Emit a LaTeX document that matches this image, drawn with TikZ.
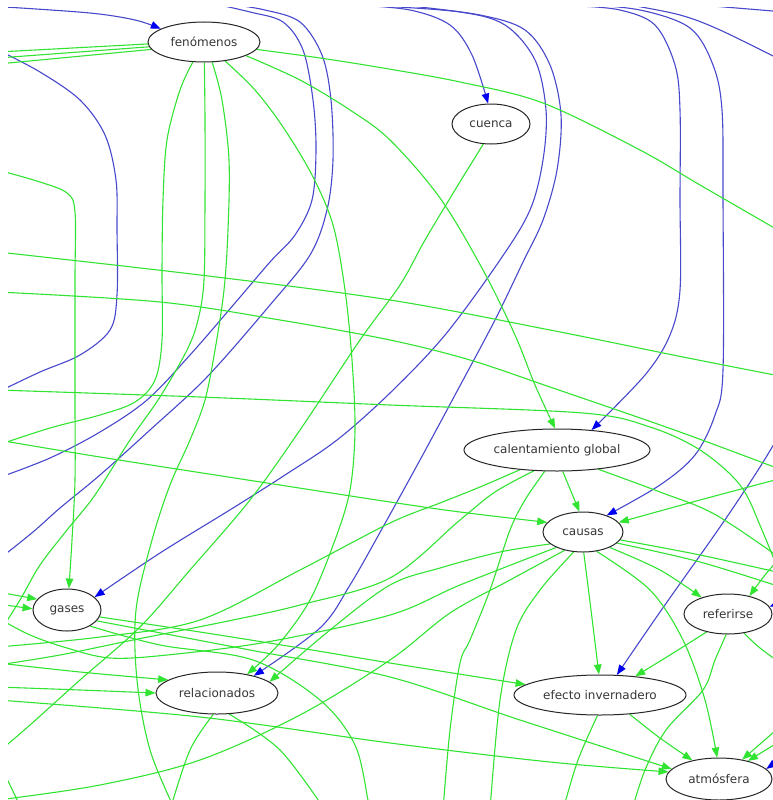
\documentclass[tikz,border=0pt]{standalone}
\usepackage{fontspec}
\setmainfont{DejaVu Sans}
\usetikzlibrary{shapes.geometric,arrows.meta}
\definecolor{edgegreen}{RGB}{50,228,50}
\definecolor{edgeblue}{RGB}{72,72,205}
\definecolor{tipblue}{RGB}{0,0,240}
\definecolor{nodetext}{RGB}{55,55,55}
\pgfdeclarelayer{paper}
\pgfdeclarelayer{edges}
\pgfsetlayers{paper,edges,main}
\begin{document}
\begin{tikzpicture}[x=1pt,y=-1pt,
  concept/.style={ellipse, draw=black!85, line width=1pt, fill=white, inner sep=0pt,
    text=nodetext, font=\fontsize{12}{14}\selectfont},
  gline/.style={draw=edgegreen, line width=1.1pt},
  bline/.style={draw=edgeblue, line width=1.1pt},
  gtip/.style={gline, -{Triangle[length=10pt,width=7.5pt,color=edgegreen]}},
  btip/.style={bline, -{Triangle[length=10pt,width=7.5pt,color=tipblue]}},
  sm/.style={smooth, tension=0.55}
]
\begin{pgfonlayer}{paper}
\fill[white] (0,0) rectangle (773,800);
\end{pgfonlayer}
\useasboundingbox (0,0) rectangle (773,800);

% concepts
\node[concept, minimum width=112pt, minimum height=40pt] (fen) at (204,42) {fenómenos};
\node[concept, minimum width=78pt,  minimum height=40pt] (cue) at (491,124) {cuenca};
\node[concept, minimum width=186pt, minimum height=42pt] (cal) at (557,450) {calentamiento global};
\node[concept, minimum width=80pt,  minimum height=40pt] (cau) at (583,532) {causas};
\node[concept, minimum width=68pt,  minimum height=42pt] (gas) at (67,610) {gases};
\node[concept, minimum width=122pt, minimum height=42pt] (rel) at (217,693) {relacionados};
\node[concept, minimum width=88pt,  minimum height=40pt] (ref) at (728,614) {referirse};
\node[concept, minimum width=172pt, minimum height=40pt] (efe) at (600,695) {efecto invernadero};
\node[concept, minimum width=106pt, minimum height=42pt] (atm) at (719,779) {atmósfera};

% free ends of connectors leaving the frame
\coordinate (t1) at (5,7);     \coordinate (t3) at (215,4);   \coordinate (t4) at (228,4);
\coordinate (t5) at (355,5);   \coordinate (t6) at (380,6);   \coordinate (t7) at (410,6);
\coordinate (t8) at (578,6);   \coordinate (t9) at (578,4);   \coordinate (t10) at (630,5);
\coordinate (t11) at (700,5);
\coordinate (l2) at (-2,50);   \coordinate (l3) at (-2,392);  \coordinate (l4) at (-2,478);
\coordinate (l5) at (-2,560);  \coordinate (l6) at (-2,52);   \coordinate (l7) at (-2,58);
\coordinate (l8) at (-2,64);   \coordinate (l9) at (-2,445);  \coordinate (l10) at (-2,635);
\coordinate (l11) at (-5,755); \coordinate (l12) at (-2,170); \coordinate (l13) at (-2,252);
\coordinate (l14) at (-2,292); \coordinate (l15) at (-2,390); \coordinate (l16) at (-2,440);
\coordinate (l17) at (-2,647); \coordinate (l18) at (-2,665); \coordinate (l19) at (-2,800);
\coordinate (l20) at (-2,700); \coordinate (l21) at (-2,663); \coordinate (l22) at (-2,687);
\coordinate (l23) at (-2,592); \coordinate (l24) at (-2,604); \coordinate (l25) at (-2,618);
\coordinate (l26) at (-2,760);
\coordinate (r1) at (785,62);  \coordinate (r2) at (785,12);  \coordinate (r3) at (788,420);
\coordinate (r4) at (790,752); \coordinate (r5) at (790,598); \coordinate (r6) at (790,237);
\coordinate (r7) at (790,378); \coordinate (r8) at (790,473); \coordinate (r9) at (790,600);
\coordinate (r10) at (790,476);\coordinate (r11) at (790,565);\coordinate (r12) at (790,575);
\coordinate (r13) at (790,590);\coordinate (r14) at (785,552);\coordinate (r15) at (790,670);
\coordinate (r16) at (790,718);\coordinate (r17) at (790,735);
\coordinate (b1) at (175,810); \coordinate (b2) at (443,810); \coordinate (b3) at (490,810);
\coordinate (b4) at (632,810); \coordinate (b5) at (563,810); \coordinate (b6) at (170,810);
\coordinate (b7) at (325,810); \coordinate (b8) at (370,810); \coordinate (b9) at (22,810);

\begin{pgfonlayer}{edges}
\begin{scope}
\clip (8,8) rectangle (773,800);

% blue connectors
\draw[btip] plot[sm] coordinates {(t1) (90,13) (135,20) (fen.163)};
\draw[bline] plot[sm] coordinates {(l2) (40,72) (80,100) (105,135) (116,180) (117,230) (117,295) (110,330) (80,355) (40,372) (l3)};
\draw[bline] plot[sm] coordinates {(t3) (250,12) (283,22) (303,50) (313,100) (316,150) (312,200) (295,235) (270,262) (235,303) (190,355) (147,400) (100,432) (50,458) (l4)};
\draw[bline] plot[sm] coordinates {(t4) (265,10) (300,22) (322,55) (331,100) (333,160) (327,210) (310,255) (270,305) (207,377) (150,430) (100,475) (60,508) (33,532) (l5)};
\draw[btip] plot[sm] coordinates {(t5) (410,10) (450,25) (472,55) (cue.98)};
\draw[btip] plot[sm] coordinates {(t6) (460,12) (505,25) (535,60) (546,110) (543,160) (530,210) (500,260) (445,335) (390,393) (337,440) (285,475) (233,508) (160,553) (gas.25)};
\draw[btip] plot[sm] coordinates {(t7) (480,15) (525,30) (550,65) (561,115) (557,170) (543,220) (523,262) (495,320) (455,395) (420,460) (383,527) (350,585) (320,628) (rel.25)};
\draw[btip] plot[sm] coordinates {(t8) (620,10) (655,25) (675,65) (680,110) (680,200) (680,290) (670,335) (645,375) (cal.30)};
\draw[btip] plot[sm] coordinates {(t9) (640,10) (690,28) (713,65) (722,110) (723,200) (723,370) (715,415) (695,455) (660,485) (cau.35)};
\draw[bline] plot[sm] coordinates {(t10) (680,15) (720,30) (r1)};
\draw[bline] (t11) -- (r2);
\draw[btip] plot[sm] coordinates {(r3) (760,467) (720,527) (660,612) (efe.50)};
\draw[btip] (r4) -- (atm.12);
\draw[btip] (r5) -- (ref.10);

% green connectors from fenómenos
\draw[gline] (fen.182) -- (l6);
\draw[gline] (fen.185) -- (l7);
\draw[gline] (fen.188) -- (l8);
\draw[gline] plot[sm] coordinates {(fen.-8) (320,58) (383,68) (460,82) (543,103) (640,150) (700,185) (r6)};
\draw[gtip] plot[sm] coordinates {(fen.-18) (300,80) (350,110) (390,140) (440,198) (483,270) (515,335) (535,385) (cal.95)};
\draw[gline] plot[sm] coordinates {(fen.-119) (180,90) (167,140) (163,200) (162,270) (162,340) (155,380) (135,402) (100,415) (50,428) (l9)};
\draw[gline] plot[sm] coordinates {(fen.-89) (205,120) (205,200) (204,280) (198,320) (187,350) (160,397) (130,440) (95,495) (67,530) (40,565) (20,600) (l10)};
\draw[gline] plot[sm] coordinates {(fen.-68) (222,100) (229,160) (228,230) (224,290) (215,350) (205,400) (190,440) (170,485) (152,540) (136,610) (137,680) (150,750) (b1)};
\draw[gtip] plot[sm] coordinates {(fen.-42) (255,90) (283,127) (312,175) (333,225) (345,290) (352,360) (355,430) (350,490) (335,540) (310,600) (278,645) (rel.32)};

% from cuenca
\draw[gline] plot[sm] coordinates {(cue.-111) (455,190) (425,240) (400,285) (360,340) (300,430) (250,500) (190,570) (140,627) (80,680) (30,725) (l11)};

% long connectors across the left side
\draw[gtip] plot[sm] coordinates {(l12) (40,182) (67,193) (75,212) (75,280) (75,400) (75,480) (72,540) (gas.85)};
\draw[gline] plot[sm] coordinates {(l13) (200,275) (390,300) (550,330) (683,357) (r7)};
\draw[gline] plot[sm] coordinates {(l14) (160,302) (280,320) (390,340) (470,360) (550,387) (680,432) (r8)};
\draw[gline] plot[sm] coordinates {(l15) (200,397) (390,405) (583,413) (650,427) (700,450) (740,485) (762,530) (r9)};
\draw[gtip] plot[sm] coordinates {(l16) (100,457) (267,483) (390,502) (460,512) (cau.165)};
\draw[gtip] plot[sm] coordinates {(r10) (700,500) (cau.15)};

% from calentamiento global
\draw[gline] plot[sm] coordinates {(cal.-152) (480,487) (440,503) (390,523) (300,570) (200,620) (100,637) (l17)};
\draw[gline] plot[sm] coordinates {(cal.-138) (495,492) (460,520) (390,578) (300,605) (233,620) (133,640) (60,655) (l18)};
\draw[gline] plot[sm] coordinates {(cal.-120) (525,500) (510,530) (490,590) (470,640) (460,663) (450,730) (b2)};
\draw[gtip] (cal.-75) -- (cau.100);
\draw[gline] plot[sm] coordinates {(cal.-25) (660,492) (716,515) (r11)};

% from causas
\draw[gtip] plot[sm] coordinates {(cau.-160) (500,552) (440,568) (390,585) (330,630) (rel.12)};
\draw[gline] plot[sm] coordinates {(cau.-135) (510,580) (450,613) (390,660) (300,715) (200,760) (100,785) (l19)};
\draw[gline] plot[sm] coordinates {(cau.-115) (540,590) (516,630) (500,700) (b3)};
\draw[gtip] plot[sm] coordinates {(cau.-88) (591,610) (efe.93)};
\draw[gtip] plot[sm] coordinates {(cau.-55) (650,590) (683,640) (705,700) (atm.95)};
\draw[gtip] plot[sm] coordinates {(cau.-30) (660,570) (ref.148)};
\draw[gline] plot[sm] coordinates {(cau.-12) (700,555) (r12)};
\draw[gline] plot[sm] coordinates {(cau.-18) (700,562) (r13)};
\draw[gline] plot[sm] coordinates {(cau.-150) (460,585) (390,615) (267,642) (167,655) (110,658) (67,648) (30,635) (l25)};

% around referirse
\draw[gtip] plot[sm] coordinates {(r14) (765,575) (ref.40)};
\draw[gtip] plot[sm] coordinates {(ref.-140) (670,655) (efe.28)};
\draw[gline] plot[sm] coordinates {(ref.-95) (715,660) (703,690) (666,730) (645,770) (b4)};
\draw[gline] plot[sm] coordinates {(ref.-50) (760,648) (r15)};
\draw[gtip] (r16) -- (atm.40);
\draw[gtip] (r17) -- (atm.32);

% from efecto invernadero
\draw[gtip] plot[sm] coordinates {(efe.-33) (660,738) (atm.145)};
\draw[gline] plot[sm] coordinates {(efe.-97) (578,760) (b5)};

% from gases
\draw[gtip] plot[sm] coordinates {(gas.-12) (200,632) (300,648) (390,663) (efe.172)};
\draw[gtip] plot[sm] coordinates {(gas.-20) (250,650) (390,677) (520,720) (atm.168)};
\draw[gline] plot[sm] coordinates {(gas.-35) (160,645) (253,660) (320,700) (355,745) (368,800) (b8)};

% into relacionados, gases and atmósfera from the left
\draw[gtip] plot[sm] coordinates {(l20) (200,717) (390,743) (550,762) (atm.172)};
\draw[gtip] plot[sm] coordinates {(l21) (80,672) (rel.165)};
\draw[gtip] plot[sm] coordinates {(l22) (80,690) (rel.180)};
\draw[gtip] (l23) -- (gas.160);
\draw[gtip] (l24) -- (gas.178);
\draw[gline] (l26) -- (b9);

% from relacionados
\draw[gline] plot[sm] coordinates {(rel.-100) (190,750) (b6)};
\draw[gline] plot[sm] coordinates {(rel.-60) (280,750) (b7)};
\end{scope}
\end{pgfonlayer}
\end{tikzpicture}
\end{document}
